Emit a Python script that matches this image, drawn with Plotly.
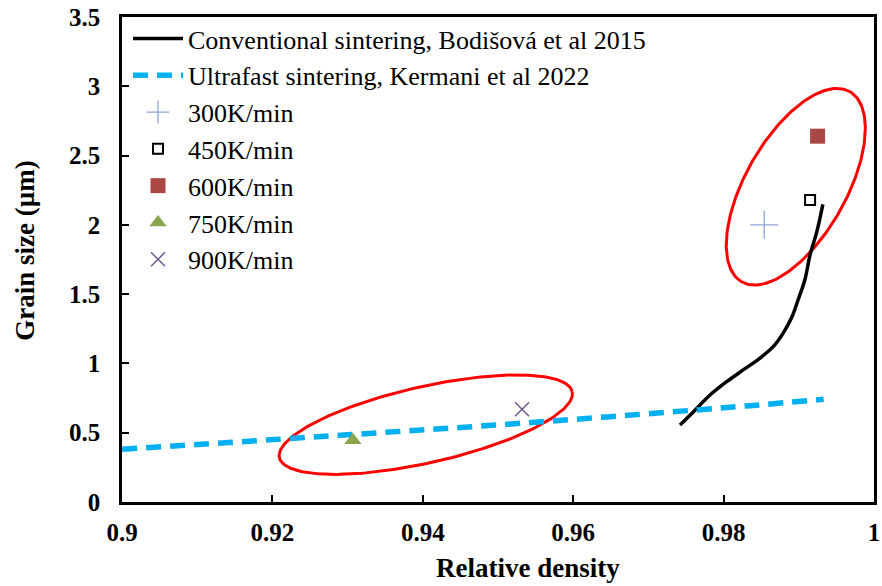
import numpy as np
import plotly.graph_objects as go

# Conventional sintering, Bodišová et al 2015 (black curve)
conv_density = [0.9742, 0.9760, 0.9782, 0.9804, 0.9826, 0.9848, 0.9866,
                0.9879, 0.9891, 0.9899, 0.9908, 0.9915, 0.9924, 0.9932]
conv_grain = [0.556, 0.652, 0.772, 0.868, 0.953, 1.037, 1.121,
              1.217, 1.337, 1.458, 1.602, 1.783, 1.951, 2.148]

# Ultrafast sintering, Kermani et al 2022 (dashed blue)
uf_density = [0.900, 0.926, 0.953, 0.983, 0.9933]
uf_grain = [0.380, 0.471, 0.568, 0.693, 0.741]

# heating-rate points
rate_labels = ["300K/min", "450K/min", "600K/min", "750K/min", "900K/min"]
rate_density = [0.9854, 0.9915, 0.9925, 0.9307, 0.9532]
rate_grain = [2.00, 2.18, 2.64, 0.445, 0.67]

# red highlight ellipses: centre (data units), semi-axes (px), tilt (deg)
ell_cx = [0.9896, 0.9404]
ell_cy = [2.275, 0.558]
ell_a = [109.4, 150.1]
ell_b = [50.3, 38.1]
ell_tilt = [60.4, 12.7]

x_ticks = [0.9, 0.92, 0.94, 0.96, 0.98, 1.0]
x_ticktext = ["0.9", "0.92", "0.94", "0.96", "0.98", "1"]
y_ticks = [0, 0.5, 1, 1.5, 2, 2.5, 3, 3.5]
y_ticktext = ["0", "0.5", "1", "1.5", "2", "2.5", "3", "3.5"]

W, H = 882, 586
ML, MR, MT, MB = 122, 8, 17, 84
X_RANGE = [0.9, 1.0]
Y_RANGE = [0, 3.5]
SERIF = "Liberation Serif, Times New Roman, serif"

markers = [
    dict(symbol="cross-thin", size=20, color="#8EA6D6", line=dict(width=1.3, color="#8EA6D6")),
    dict(symbol="square-open", size=10, color="black", line=dict(width=2, color="black")),
    dict(symbol="square", size=15, color="#AA4643"),
    dict(symbol="triangle-up", size=15, color="#89A54E"),
    dict(symbol="x-thin", size=14, color="#71588F", line=dict(width=1.5, color="#71588F")),
]

fig = go.Figure()

# ellipses built in pixel space so the tilt matches the picture
px_x = (W - ML - MR) / (X_RANGE[1] - X_RANGE[0])
px_y = (H - MT - MB) / (Y_RANGE[1] - Y_RANGE[0])
t = np.linspace(0, 2 * np.pi, 240)
for cx, cy, a, b, tilt in zip(ell_cx, ell_cy, ell_a, ell_b, ell_tilt):
    th = np.radians(tilt)
    dx = a * np.cos(t) * np.cos(th) - b * np.sin(t) * np.sin(th)
    dy = a * np.cos(t) * np.sin(th) + b * np.sin(t) * np.cos(th)
    fig.add_trace(go.Scatter(
        x=cx + dx / px_x, y=cy + dy / px_y, mode="lines",
        line=dict(color="#FF0000", width=3),
        showlegend=False, hoverinfo="skip",
    ))

fig.add_trace(go.Scatter(
    x=conv_density, y=conv_grain, mode="lines",
    name="Conventional sintering, Bodišová et al 2015",
    line=dict(color="black", width=3.5, shape="spline"),
))
fig.add_trace(go.Scatter(
    x=uf_density, y=uf_grain, mode="lines",
    name="Ultrafast sintering, Kermani et al 2022",
    line=dict(color="#00B0F0", width=5.5, dash="15px,9px", shape="spline"),
))
for lab, xd, yd, mk in zip(rate_labels, rate_density, rate_grain, markers):
    fig.add_trace(go.Scatter(
        x=[xd], y=[yd], mode="markers", name=lab, marker=mk,
    ))

axis_common = dict(
    showline=True, linewidth=2.5, linecolor="black", mirror=True,
    ticks="inside", ticklen=7, tickwidth=2, tickcolor="black",
    showgrid=False, zeroline=False, automargin=False,
    tickfont=dict(family=SERIF, size=25, color="black", weight="bold"),
)
fig.update_xaxes(range=X_RANGE, tickvals=x_ticks, ticktext=x_ticktext,
                 ticklabelstandoff=6, **axis_common)
fig.update_yaxes(range=Y_RANGE, tickvals=y_ticks, ticktext=y_ticktext,
                 ticklabelstandoff=14, **axis_common)

fig.add_annotation(text="Relative density", xref="paper", yref="paper",
                   x=0.54, y=-0.137, showarrow=False, xanchor="center", yanchor="middle",
                   font=dict(family=SERIF, size=27, color="black", weight="bold"))
fig.add_annotation(text="Grain size (µm)", xref="paper", yref="paper",
                   x=-0.129, y=0.52, showarrow=False, textangle=-90,
                   xanchor="center", yanchor="middle",
                   font=dict(family=SERIF, size=27, color="black", weight="bold"))

fig.update_layout(
    width=W, height=H,
    margin=dict(l=ML, r=MR, t=MT, b=MB, autoexpand=False),
    paper_bgcolor="white", plot_bgcolor="white",
    showlegend=True,
    legend=dict(x=0.008, y=1.004, xanchor="left", yanchor="top",
                bgcolor="rgba(0,0,0,0)", itemwidth=50,
                font=dict(family=SERIF, size=26, color="black")),
)

# drop the page's default body margin so the figure sits at the window corner
fig.write_html("out.html", config={"displayModeBar": False},
               post_script="document.body.style.margin='0';")
